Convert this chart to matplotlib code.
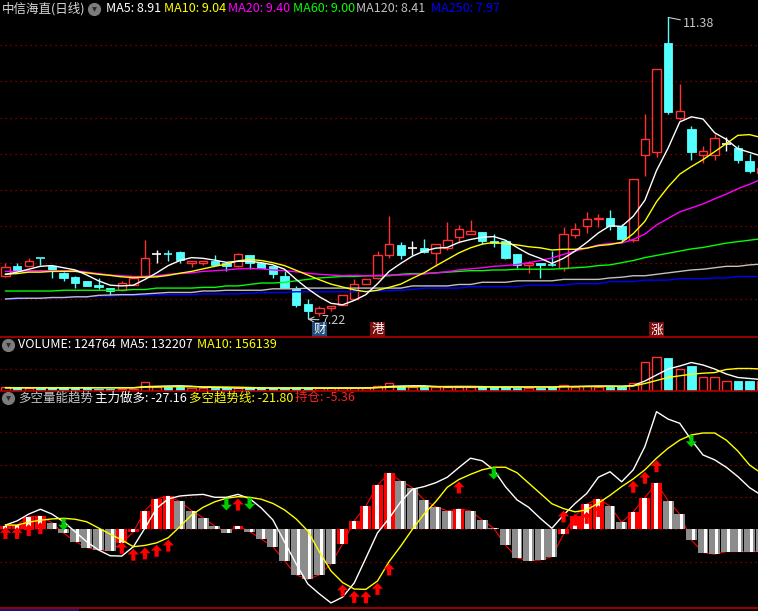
import numpy as np
import matplotlib
matplotlib.use("Agg")
import matplotlib.pyplot as plt
from matplotlib.patches import Rectangle
from matplotlib.lines import Line2D

plt.rcParams['font.family'] = ['Noto Sans CJK SC', 'DejaVu Sans']

# ---- daily prices ----
opens = [7.81, 7.96, 7.96, 8.065, 7.95, 7.86, 7.80, 7.75, 7.69, 7.65,
         7.62, 7.69, 7.82, 8.12, 8.12, 8.15, 7.99, 8.00, 8.03, 8.00,
         7.96, 8.11, 7.99, 7.95, 7.82, 7.64, 7.43, 7.30, 7.37, 7.42,
         7.50, 7.70, 7.79, 8.10, 8.24, 8.20, 8.20, 8.14, 8.20, 8.35,
         8.39, 8.42, 8.30, 8.30, 8.12, 7.97, 8.00, 7.97, 7.92, 8.38,
         8.50, 8.60, 8.62, 8.51, 8.31, 9.49, 9.53, 11.03, 9.99, 9.84,
         9.49, 9.49, 9.64, 9.58, 9.40, 9.24]
highs = [7.99, 7.99, 8.06, 8.07, 7.97, 7.87, 7.82, 7.75, 7.79, 7.65,
         7.75, 7.79, 8.31, 8.18, 8.18, 8.16, 8.02, 8.03, 8.11, 8.00,
         8.14, 8.11, 7.99, 7.95, 7.88, 7.68, 7.50, 7.40, 7.40, 7.55,
         7.78, 7.77, 8.16, 8.64, 8.29, 8.30, 8.32, 8.26, 8.56, 8.52,
         8.59, 8.42, 8.40, 8.31, 8.12, 8.03, 8.00, 8.16, 8.49, 8.55,
         8.70, 8.67, 8.73, 8.54, 9.15, 10.05, 10.67, 11.38, 10.46, 9.88,
         9.61, 9.78, 9.73, 9.62, 9.50, 9.30]
lows = [7.80, 7.89, 7.95, 7.97, 7.79, 7.75, 7.65, 7.68, 7.64, 7.55,
        7.61, 7.69, 7.82, 8.00, 8.03, 8.00, 7.94, 7.97, 7.975, 7.88,
        7.94, 7.91, 7.93, 7.79, 7.65, 7.39, 7.22, 7.27, 7.33, 7.42,
        7.50, 7.70, 7.77, 8.07, 8.05, 8.11, 8.14, 7.96, 8.18, 8.27,
        8.39, 8.26, 8.21, 8.05, 7.92, 7.86, 7.79, 7.95, 7.89, 8.34,
        8.41, 8.49, 8.45, 8.29, 8.29, 9.20, 9.46, 10.05, 9.97, 9.41,
        9.38, 9.41, 9.54, 9.38, 9.23, 9.24]
closes = [7.94, 7.89, 8.03, 8.06, 7.88, 7.79, 7.72, 7.68, 7.66, 7.61,
          7.72, 7.79, 8.07, 8.12, 8.11, 8.04, 8.02, 8.03, 7.975, 7.96,
          8.12, 8.00, 7.93, 7.84, 7.65, 7.42, 7.34, 7.38, 7.40, 7.55,
          7.71, 7.77, 8.10, 8.26, 8.11, 8.20, 8.15, 8.26, 8.31, 8.46,
          8.44, 8.30, 8.27, 8.07, 7.97, 8.00, 7.97, 7.96, 8.39, 8.46,
          8.60, 8.62, 8.50, 8.33, 9.15, 9.70, 10.67, 10.07, 10.09, 9.52,
          9.54, 9.72, 9.64, 9.41, 9.27, 9.30]

# ---- moving averages ----
ma5 = [7.84, 7.87, 7.91, 7.95, 7.96, 7.93, 7.90, 7.83, 7.75, 7.69,
       7.68, 7.69, 7.77, 7.86, 7.96, 8.03, 8.07, 8.06, 8.035, 8.005,
       8.02, 8.02, 8.00, 7.97, 7.91, 7.77, 7.64, 7.53, 7.44, 7.42,
       7.48, 7.56, 7.71, 7.88, 7.99, 8.09, 8.16, 8.20, 8.21, 8.28,
       8.32, 8.35, 8.36, 8.31, 8.21, 8.12, 8.06, 7.99, 8.06, 8.16,
       8.28, 8.41, 8.51, 8.50, 8.64, 8.86, 9.27, 9.58, 9.94, 10.01,
       9.98, 9.79, 9.70, 9.57, 9.52, 9.47]
ma10 = [7.84, 7.85, 7.87, 7.87, 7.88, 7.88, 7.88, 7.86, 7.84, 7.825,
        7.805, 7.795, 7.80, 7.805, 7.825, 7.855, 7.88, 7.915, 7.95, 7.98,
        8.025, 8.045, 8.03, 8.00, 7.96, 7.895, 7.83, 7.765, 7.705, 7.665,
        7.625, 7.60, 7.62, 7.66, 7.705, 7.785, 7.86, 7.955, 8.045, 8.135,
        8.205, 8.255, 8.28, 8.26, 8.245, 8.22, 8.205, 8.175, 8.185, 8.185,
        8.20, 8.235, 8.25, 8.28, 8.40, 8.57, 8.84, 9.045, 9.22, 9.325,
        9.42, 9.53, 9.64, 9.755, 9.765, 9.725]
ma20 = [7.88, 7.88, 7.89, 7.89, 7.89, 7.89, 7.89, 7.87, 7.85, 7.83,
        7.82, 7.81, 7.81, 7.82, 7.84, 7.85, 7.86, 7.88, 7.89, 7.90,
        7.915, 7.92, 7.915, 7.90, 7.89, 7.875, 7.855, 7.84, 7.83, 7.82,
        7.825, 7.82, 7.825, 7.83, 7.83, 7.84, 7.845, 7.86, 7.875, 7.90,
        7.915, 7.93, 7.95, 7.96, 7.975, 8.00, 8.03, 8.065, 8.115, 8.16,
        8.20, 8.245, 8.265, 8.27, 8.32, 8.395, 8.52, 8.61, 8.70, 8.755,
        8.81, 8.88, 8.945, 9.02, 9.08, 9.15]
ma60 = [7.61, 7.61, 7.61, 7.61, 7.61, 7.62, 7.62, 7.62, 7.62, 7.62,
        7.62, 7.63, 7.63, 7.65, 7.65, 7.65, 7.65, 7.66, 7.66, 7.68,
        7.68, 7.70, 7.72, 7.72, 7.73, 7.75, 7.77, 7.79, 7.80, 7.81,
        7.81, 7.82, 7.82, 7.82, 7.84, 7.85, 7.85, 7.86, 7.87, 7.88,
        7.89, 7.89, 7.90, 7.90, 7.91, 7.91, 7.91, 7.91, 7.92, 7.93,
        7.94, 7.96, 7.97, 8.00, 8.03, 8.07, 8.10, 8.13, 8.16, 8.19,
        8.21, 8.24, 8.27, 8.29, 8.31, 8.33]
ma120 = [7.50, 7.51, 7.51, 7.51, 7.52, 7.52, 7.53, 7.53, 7.55, 7.555,
         7.56, 7.56, 7.57, 7.58, 7.59, 7.59, 7.59, 7.61, 7.61, 7.62,
         7.62, 7.62, 7.62, 7.64, 7.64, 7.64, 7.65, 7.65, 7.65, 7.65,
         7.65, 7.65, 7.65, 7.65, 7.65, 7.68, 7.68, 7.68, 7.68, 7.70,
         7.70, 7.73, 7.73, 7.73, 7.75, 7.75, 7.75, 7.75, 7.77, 7.77,
         7.77, 7.77, 7.79, 7.80, 7.82, 7.82, 7.84, 7.86, 7.88, 7.90,
         7.91, 7.93, 7.95, 7.95, 7.97, 7.98]
ma250 = [7.50, 7.50, 7.51, 7.51, 7.52, 7.52, 7.53, 7.53, 7.54, 7.54,
         7.55, 7.55, 7.55, 7.56, 7.56, 7.56, 7.56, 7.57, 7.57, 7.57,
         7.57, 7.58, 7.59, 7.59, 7.59, 7.60, 7.60, 7.60, 7.60, 7.60,
         7.60, 7.61, 7.61, 7.62, 7.62, 7.63, 7.65, 7.65, 7.65, 7.65,
         7.67, 7.67, 7.67, 7.67, 7.67, 7.69, 7.69, 7.69, 7.69, 7.71,
         7.71, 7.71, 7.74, 7.74, 7.74, 7.76, 7.76, 7.76, 7.78, 7.78,
         7.78, 7.79, 7.79, 7.81, 7.81, 7.81]

# ---- volume (lots) ----
volume = [37000, 27000, 27000, 27000, 43000, 33000, 33000, 27000, 23000, 23000,
          23000, 23000, 87000, 45000, 45000, 45000, 30000, 30000, 30000, 30000,
          30000, 30000, 30000, 30000, 30000, 30000, 30000, 30000, 30000, 30000,
          30000, 35000, 50000, 80000, 50000, 40000, 40000, 40000, 40000, 40000,
          40000, 40000, 40000, 40000, 35000, 35000, 35000, 40000, 60000, 45000,
          50000, 45000, 45000, 50000, 80000, 290000, 340000, 330000, 220000, 250000,
          140000, 140000, 100000, 100000, 100000, 100000]
vol_ma5 = [32000, 32000, 32000, 32000, 32000, 32000, 32000, 32000, 32000, 32000,
           32000, 32000, 43000, 47000, 50000, 52000, 48000, 38000, 35000, 32000,
           30000, 30000, 30000, 30000, 30000, 30000, 30000, 30000, 30000, 30000,
           30000, 31000, 35000, 45000, 50000, 52000, 52000, 45000, 40000, 40000,
           40000, 40000, 40000, 40000, 40000, 40000, 40000, 40000, 44000, 46000,
           48000, 50000, 50000, 48000, 54000, 100000, 160000, 220000, 250000, 285000,
           260000, 220000, 170000, 135000, 125000, 115000]
vol_ma10 = [33000, 33000, 33000, 33000, 33000, 33000, 33000, 33000, 33000, 33000,
            33000, 33000, 38000, 40000, 42000, 43000, 43000, 42000, 41000, 40000,
            38000, 35000, 32000, 30000, 30000, 30000, 30000, 30000, 30000, 30000,
            30000, 30000, 33000, 37000, 40000, 42000, 43000, 44000, 45000, 46000,
            46000, 44000, 40000, 40000, 40000, 40000, 40000, 40000, 42000, 43000,
            44000, 45000, 46000, 46000, 50000, 75000, 105000, 135000, 152000, 168000,
            178000, 184000, 215000, 225000, 225000, 220000]

# ---- 多空量能趋势 indicator ----
zhuli = [1.3, 2.6, 4.7, 6.2, 4.7, 2.3, -0.8, -3.9, -6.4, -8.2,
         -8.3, -5.4, 0.4, 6.5, 9.4, 10.3, 10.6, 10.8, 9.9, 9.9,
         10.8, 9.5, 6.6, 2.9, -3.9, -10.7, -16.9, -20.0, -22.8, -21.0,
         -16.6, -8.9, -1.1, 3.4, 8.5, 12.4, 13.2, 14.4, 16.1, 19.1,
         22.0, 21.2, 18.4, 13.2, 9.1, 6.8, 3.4, 0.3, 4.4, 8.0,
         11.1, 16.1, 17.8, 14.7, 18.4, 25.6, 36.4, 34.1, 32.8, 27.6,
         23.0, 21.5, 19.2, 16.3, 12.9, 10.6]
trend = [1.3, 1.3, 2.2, 2.8, 3.2, 3.4, 3.1, 2.3, 0.4, -1.5,
         -3.3, -5.4, -5.0, -4.2, -2.6, 0.8, 4.4, 6.8, 8.5, 9.6,
         10.1, 9.9, 9.3, 8.0, 6.0, 3.2, -0.5, -7.0, -12.9, -16.5,
         -18.5, -18.6, -16.0, -10.0, -5.2, 0.0, 4.7, 8.5, 13.0, 15.4,
         17.0, 18.4, 19.2, 19.2, 17.5, 14.3, 11.1, 7.9, 6.4, 5.4,
         6.0, 8.1, 10.5, 13.2, 15.6, 18.4, 22.0, 25.1, 27.6, 29.2,
         29.8, 29.8, 27.6, 24.2, 19.9, 17.4]
hold = [1.0, 1.3, 3.9, 4.1, 2.0, -1.2, -3.8, -5.7, -6.4, -6.6,
        -4.3, -0.8, 5.8, 9.4, 10.3, 8.6, 5.8, 3.6, 1.0, -1.0,
        1.0, -0.7, -3.0, -5.4, -9.8, -14.1, -15.5, -14.1, -10.7, -4.5,
        2.6, 7.2, 13.7, 17.4, 14.9, 12.9, 9.1, 7.0, 5.7, 6.3,
        5.7, 2.9, 0.3, -4.9, -8.8, -9.7, -9.5, -8.5, -1.5, 4.1,
        7.8, 9.4, 7.2, 2.1, 5.4, 9.8, 14.3, 8.8, 4.7, -3.3,
        -7.2, -7.7, -6.9, -6.9, -6.9, -6.9]
# R = red bar, G = grey bar
hold_kind = ("RRRRGGGGGG" "RRRRRGGGGG" "RGGGGGGGGR" "RRRRGGGGGR"
             "GGGGGGGGRR" "RRGGRRRGGG" "GGGGGG")
buy_days = [0, 1, 2, 3, 10, 11, 12, 13, 14, 20, 29, 30, 31, 32, 33, 39,
            48, 49, 50, 51, 54, 55, 56]
sell_days = [5, 19, 21, 42, 59]

# event tags under the candles
tag_days = [27, 32, 56]
tag_text = ['财', '港', '涨']

# ---- colours ----
RED = '#ff3232'
CYAN = '#54ffff'
GRID = '#a00000'
BORDER = '#b40000'
MA_COLORS = ['white', '#ffff00', '#ff00ff', '#00ff00', '#c0c0c0', '#0000ff']
TAG_BG = ['#1d4d7a', '#7d0c0c', '#7d0c0c']

W, H = 758, 611
fig = plt.figure(figsize=(W / 100, H / 100), dpi=100, facecolor='black')
x = np.arange(len(closes))


def panel(top, bottom):
    a = fig.add_axes([0, 1 - bottom / H, 1, (bottom - top) / H])
    a.set_xlim(-0.473, 64.73)
    a.axis('off')
    return a


def ftext(px, py, s, color, size=9):
    fig.text(px / W, 1 - py / H, s, color=color, fontsize=size, va='center', ha='left')


def knob(px, py):
    fig.add_artist(Line2D([px / W], [1 - py / H], marker='o', ms=9.5, color='#7c7c7c',
                          mew=0, transform=fig.transFigure))
    fig.add_artist(Line2D([px / W], [1 - (py - 0.5) / H], marker='v', ms=3.5, color='#2a2a2a',
                          mew=0, transform=fig.transFigure))


def dotted(a, y):
    a.axhline(y, color=GRID, lw=0.9, ls=(0, (1, 3)), zorder=0)


ARROW = 'simple,head_length=0.42,head_width=0.8,tail_width=0.3'


def signal(a, d, tip, direction, color):
    # arrow of ~12 px pointing at `tip`
    a.annotate('', xy=(d, tip), xytext=(0, -12 * direction), textcoords='offset pixels',
               arrowprops=dict(arrowstyle=ARROW, color=color, lw=0, mutation_scale=10,
                               shrinkA=0, shrinkB=0), zorder=5)


# ================= price panel =================
ax = panel(0, 337)
ax.set_ylim(6.976, 11.62)
for p in np.arange(7.5, 11.01, 0.5):
    dotted(ax, p)

bw = 0.73
for i in x:
    o, h, l, c = opens[i], highs[i], lows[i], closes[i]
    if abs(c - o) < 0.012:
        col = 'white' if c == o else (RED if c > o else CYAN)
        ax.vlines(i, l, h, color=col, lw=1, zorder=2)
        ax.hlines((o + c) / 2, i - bw / 2, i + bw / 2, color=col, lw=1.2, zorder=2)
    elif c > o:
        ax.vlines(i, c, h, color=RED, lw=1, zorder=2)
        ax.vlines(i, l, o, color=RED, lw=1, zorder=2)
        ax.add_patch(Rectangle((i - bw / 2, o), bw, c - o, facecolor='black',
                               edgecolor=RED, lw=1, zorder=2))
    else:
        ax.vlines(i, l, h, color=CYAN, lw=1, zorder=2)
        ax.add_patch(Rectangle((i - bw / 2, c), bw, o - c, facecolor=CYAN,
                               edgecolor=CYAN, lw=0.6, zorder=2))

for vals, col in zip([ma250, ma120, ma60, ma20, ma10, ma5], MA_COLORS[::-1]):
    ax.plot(x, vals, color=col, lw=1, zorder=3)

# low / high markers
lo = int(np.argmin(lows))
hi = int(np.argmax(highs))
ax.annotate(f'{lows[lo]:.2f}', xy=(lo, lows[lo]), xytext=(14, -1), textcoords='offset pixels',
            color='#c8c8c8', fontsize=9, va='center', ha='left',
            arrowprops=dict(arrowstyle='->', color='#c8c8c8', lw=0.8, shrinkA=0, shrinkB=0))
ax.annotate(f'{highs[hi]:.2f}', xy=(hi, highs[hi]), xytext=(15, -6), textcoords='offset pixels',
            color='#c8c8c8', fontsize=9, va='center', ha='left',
            arrowprops=dict(arrowstyle='-', color='#c8c8c8', lw=0.8, shrinkA=0, shrinkB=0))

for d, t, bg in zip(tag_days, tag_text, TAG_BG):
    ax.text(d, 0.021, t, transform=ax.get_xaxis_transform(), color='white', fontsize=9,
            ha='center', va='center',
            bbox=dict(boxstyle='square,pad=0.08', facecolor=bg, edgecolor='none'))

ftext(2, 9, '中信海直(日线)', '#d8d8d8')
knob(94, 9)
for px, s, col in [(106, 'MA5: 8.91', MA_COLORS[0]), (164, 'MA10: 9.04', MA_COLORS[1]),
                   (228, 'MA20: 9.40', MA_COLORS[2]), (293, 'MA60: 9.00', MA_COLORS[3]),
                   (356, 'MA120: 8.41', MA_COLORS[4]), (431, 'MA250: 7.97', MA_COLORS[5])]:
    ftext(px, 9, s, col)

# ================= volume panel =================
av = panel(337, 391)
av.set_ylim(0, 540000)
dotted(av, 220000)
for i in x:
    if closes[i] >= opens[i]:
        av.add_patch(Rectangle((i - bw / 2, 0), bw, volume[i], facecolor='black',
                               edgecolor=RED, lw=1, zorder=2))
    else:
        av.add_patch(Rectangle((i - bw / 2, 0), bw, volume[i], facecolor=CYAN,
                               edgecolor=CYAN, lw=0.6, zorder=2))
av.plot(x, vol_ma5, color='white', lw=1, zorder=3)
av.plot(x, vol_ma10, color='#ffff00', lw=1, zorder=3)

knob(8, 345)
ftext(18, 345, 'VOLUME: 124764', 'white')
ftext(120, 345, 'MA5: 132207', 'white')
ftext(197, 345, 'MA10: 156139', '#ffff00')

# ================= indicator panel =================
ai = panel(391, 608)
ai.set_ylim(-24.37, 42.8)
for g in (-10, 0, 10, 20, 30):
    dotted(ai, g)

ai.plot(x, hold, color='#ff0000', lw=0.8, zorder=1)
for i in x:
    v = hold[i]
    if hold_kind[i] == 'R':
        ai.bar(i, v, width=0.94, color='#ff0000', zorder=2)
        ai.bar(i - 0.03, v, width=0.38, color='white', zorder=2)
    else:
        ai.bar(i, v, width=0.94, color='#8c8c8c', zorder=2)
        ai.bar(i + 0.18, v, width=0.26, color='white', zorder=2)

ai.plot(x, zhuli, color='white', lw=1, zorder=4)
ai.plot(x, trend, color='#ffff00', lw=1, zorder=4)

for d in buy_days:
    signal(ai, d, trend[d] - 0.6, 1, '#ff0000')
for d in sell_days:
    signal(ai, d, trend[d] - 3.8, -1, '#00cc00')

knob(8, 398)
ftext(18, 398, '多空量能趋势', '#c8c8c8')
ftext(95, 398, '主力做多: -27.16', 'white')
ftext(189, 398, '多空趋势线: -21.80', '#ffff00')
ftext(295, 398, '持仓: -5.36', '#ff2020')

# panel borders
for py in (337, 391, 608):
    fig.add_artist(Line2D([0, 1], [1 - py / H] * 2, color=BORDER, lw=1.2,
                          transform=fig.transFigure))
fig.add_artist(Rectangle((0, 0), 78 / W, 2.5 / H, color='#141478', transform=fig.transFigure))

fig.savefig('out.png', dpi=100, facecolor='black')
